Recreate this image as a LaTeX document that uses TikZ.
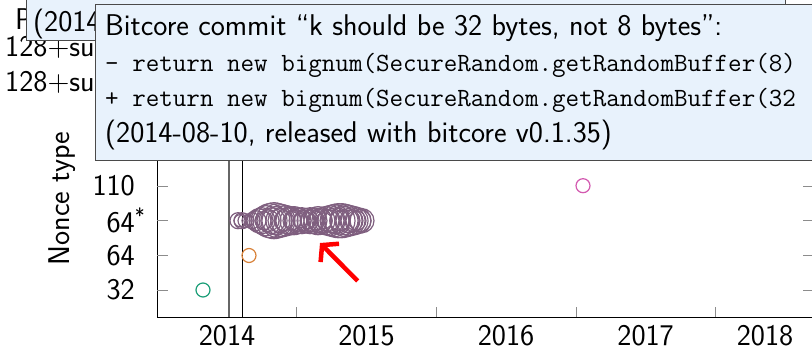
\documentclass[tikz,border=0pt]{standalone}
\usetikzlibrary{arrows.meta}
\definecolor{tipfill}{HTML}{E8F2FC}
\definecolor{tipdraw}{HTML}{4A4A4A}
\definecolor{cgreen}{HTML}{1B9E77}
\definecolor{corange}{HTML}{D8823A}
\definecolor{cmag}{HTML}{D35AB0}
\definecolor{cmauve}{HTML}{7F5F7F}
\definecolor{tickgray}{HTML}{8C8C8C}
\begin{document}
\begin{tikzpicture}[x=1pt,y=-1pt,
  lbl/.style={inner sep=0pt,font=\sffamily\fontsize{30}{36}\selectfont},
  code/.style={inner sep=0pt,font=\ttfamily\fontsize{26.3}{32}\selectfont},
  tipbox/.style={fill=tipfill,draw=tipdraw,line width=1pt},
  tickmark/.style={draw=tickgray,line width=1pt},
  pt/.style={line width=1.2pt},
  axisline/.style={line width=1pt,black}]
\useasboundingbox (0,0) rectangle (812,348);
% axes
\coordinate (o) at (157,317);
\coordinate (lt) at (157,160);
\coordinate (br) at (812,317);
\draw[axisline] (lt) -- (o) -- (br);
% x ticks
\foreach \x in {296.7,436,576,715.3}{\draw[tickmark] (\x,317) -- (\x,307);}
% y ticks
\foreach \y in {290,255.3,220.7,186,151.3}{
  \draw[tickmark] (157,\y) -- (168,\y);
  \draw[tickmark] (803,\y) -- (812,\y);}
% x labels
\node[lbl] (x2014) at (227,336) {2014};
\node[lbl] (x2015) at (366.5,336) {2015};
\node[lbl] (x2016) at (506,336) {2016};
\node[lbl] (x2017) at (645.6,336) {2017};
\node[lbl] (x2018) at (765,336) {2018};
% y labels
\node[lbl,anchor=east] (y32) at (135,290) {32};
\node[lbl,anchor=east] (y64) at (135,255.3) {64};
\node[lbl,anchor=east] (y64s) at (135,220.7) {64\rlap{\textsuperscript{*}}};
\node[lbl,anchor=east] (y110) at (135,186) {110};
\node[lbl,anchor=west] (y128a) at (5,82) {128+su};
\node[lbl,anchor=west] (y128b) at (5,47.2) {128+su};
\node[lbl,anchor=west] (yP) at (15,19) {P};
\node[lbl,rotate=90] (ylab) at (62,198.5) {Nonce type};
% vertical markers
\coordinate (va1) at (228.7,317); \coordinate (va2) at (228.7,160);
\coordinate (vb1) at (242.3,317); \coordinate (vb2) at (242.3,160);
\draw[line width=1.6pt,black!60] (va1) -- (va2);
\draw[line width=0.9pt,black] (vb1) -- (vb2);
% data points
\draw[pt,cgreen] (203,290) circle[radius=7];
\draw[pt,corange] (249,255.5) circle[radius=7];
\draw[pt,cmag] (583,185.7) circle[radius=7];
\foreach \cx/\r in {238/8,240/6,242/8,245/7,248/6,252/8,256/10,259/12,262/13,264/9,266/15,268/11,270/17,272/13,274/18,276/14,278/17,280/12,282/16,284/10,286/15,288/13,290/14,292/9,294/14,296/11,298/13,300/7,302/13,304/10,306/12,308/8,310/13,312/11,314/13,316/9,318/14,320/12,322/13,324/8,326/14,328/11,330/15,332/12,334/16,336/13,338/17,340/10,342/17,344/14,346/16,348/12,350/15,352/11,354/14,356/10,358/13,360/11,362/12}{
  \draw[pt,cmauve] (\cx,220.7) circle[radius=\r];}
% red arrow
\coordinate (arS) at (357.7,281);
\coordinate (arE) at (320,243);
\draw[red,line width=4.5pt,-{Straight Barb[length=11pt,width=26pt]}] (arS) -- (arE);
% tooltip boxes
\draw[tipbox] (26,-10) rectangle (785,40);
\node[lbl,anchor=base west] (t1) at (33,31) {(2014};
\draw[tipbox] (95,4) rectangle (840,160);
\node[lbl,anchor=base west] (t2a) at (105,35) {Bitcore commit “k should be 32 bytes, not 8 bytes”:};
\node[code,anchor=base west] (t2b) at (105,71) {- return new bignum(SecureRandom.getRandomBuffer(8)};
\node[code,anchor=base west] (t2c) at (105,106.5) {+ return new bignum(SecureRandom.getRandomBuffer(32};
\node[lbl,anchor=base west] (t2d) at (105,142) {(2014-08-10, released with bitcore v0.1.35)};
\end{tikzpicture}
\end{document}
